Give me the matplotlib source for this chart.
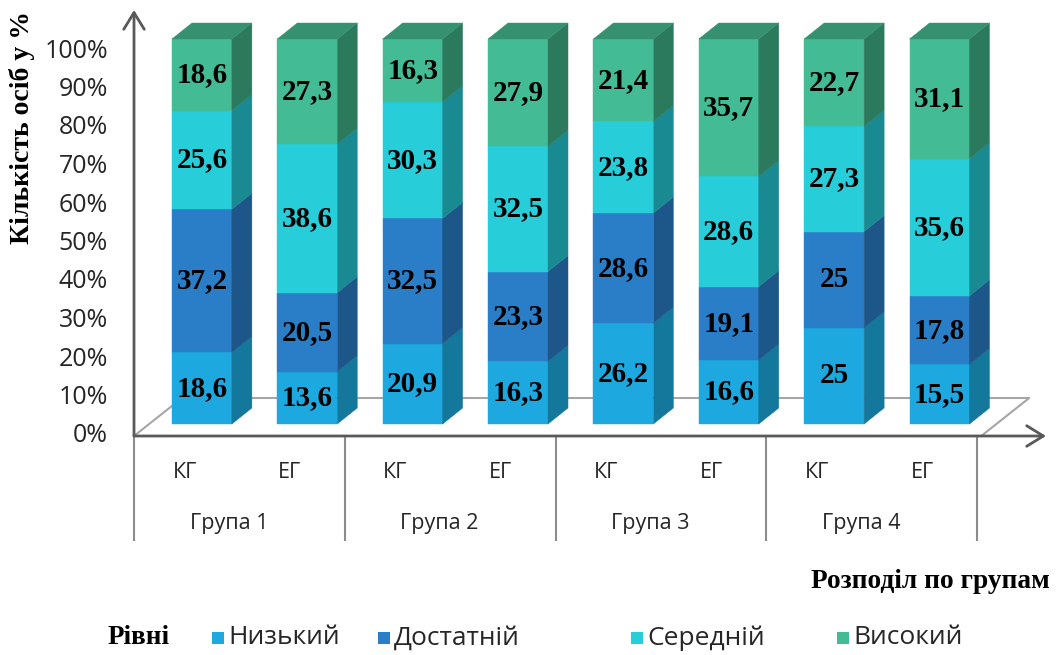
import matplotlib
matplotlib.use("Agg")
import matplotlib.pyplot as plt
from matplotlib.patches import Polygon, Rectangle

# ---------------- data ----------------
groups = ["Група 1", "Група 2", "Група 3", "Група 4"]
subcats = ["КГ", "ЕГ"]
levels = ["Низький", "Достатній", "Середній", "Високий"]
nyzkyi = [18.6, 13.6, 20.9, 16.3, 26.2, 16.6, 25, 15.5]
dostatnii = [37.2, 20.5, 32.5, 23.3, 28.6, 19.1, 25, 17.8]
serednii = [25.6, 38.6, 30.3, 32.5, 23.8, 28.6, 27.3, 35.6]
vysokyi = [18.6, 27.3, 16.3, 27.9, 21.4, 35.7, 22.7, 31.1]
series = [nyzkyi, dostatnii, serednii, vysokyi]
yticks = [0, 10, 20, 30, 40, 50, 60, 70, 80, 90, 100]

front_colors = ["#1DA8E0", "#2A7EC7", "#27CDD9", "#43BC95"]
side_colors = ["#14779C", "#1D5688", "#1A8A92", "#2C7A5D"]
top_color = "#35916F"

# ---------------- layout ----------------
W, H = 1059, 655
fig = plt.figure(figsize=(W / 100, H / 100), dpi=100)
X0, X1 = 134, 977
Y0, Y100 = 436, 51
ax = fig.add_axes([X0 / W, 1 - Y0 / H, (X1 - X0) / W, (Y0 - Y100) / H])
ncat = len(nyzkyi)
ax.set_xlim(0, ncat)
ax.set_ylim(0, 100)
ax.axis("off")

PXX = (X1 - X0) / ncat       # px per category
PXY = (Y0 - Y100) / 100.0    # px per percent


def d(dx_px, dy_px):
    """pixel offset -> data offset (dy_px positive = up)"""
    return dx_px / PXX, dy_px / PXY


FX, FY = d(48, 38)      # full floor depth
F1X, F1Y = d(15.2, 12)  # depth of bar front face
SX, SY = d(20, 16)      # bar depth
BW = 60 / PXX           # bar width

axis_col = "#595959"
floor_col = "#A6A6A6"

# floor
xr_floor = ncat + 0.04
ax.plot([0, FX, xr_floor + FX, xr_floor], [0, FY, FY, 0], color=floor_col,
        lw=1.5, clip_on=False, zorder=1)

# bars
serif = "Liberation Serif"
for i in range(ncat):
    xl = i + 0.5 - BW / 2 + F1X
    xr = xl + BW
    cum = 0.0
    for k, s in enumerate(series):
        v = s[i]
        y0 = F1Y + cum
        y1 = F1Y + cum + v
        ax.add_patch(Rectangle((xl, y0), BW, v, facecolor=front_colors[k],
                               edgecolor=front_colors[k], lw=0.3, clip_on=False, zorder=3))
        ax.add_patch(Polygon([(xr, y0), (xr + SX, y0 + SY), (xr + SX, y1 + SY), (xr, y1)],
                             closed=True, facecolor=side_colors[k], edgecolor=side_colors[k],
                             lw=0.3, clip_on=False, zorder=3))
        label = f"{v:g}".replace(".", ",")
        ax.text(xl + BW / 2, (y0 + y1) / 2, label, ha="center", va="center",
                fontsize=21, fontweight="bold", family=serif, color="black", zorder=5)
        cum += v
    ytop = F1Y + cum
    ax.add_patch(Polygon([(xl, ytop), (xr, ytop), (xr + SX, ytop + SY), (xl + SX, ytop + SY)],
                         closed=True, facecolor=top_color, edgecolor=top_color, lw=0.3,
                         clip_on=False, zorder=3))

# axes arrows
arrow = dict(arrowstyle="->,head_length=0.6,head_width=0.37", lw=2, color=axis_col,
             mutation_scale=20, shrinkA=0, shrinkB=0)
ax.annotate("", xy=((1046 - X0) / PXX, 0), xytext=(0, 0), arrowprops=arrow,
            annotation_clip=False, zorder=6)
ax.annotate("", xy=(0, (Y0 - 10) / PXY), xytext=(0, 0), arrowprops=arrow,
            annotation_clip=False, zorder=6)

# category table lines
ybot = -(540 - Y0) / PXY
for g in range(len(groups) + 1):
    ax.plot([2 * g, 2 * g], [0, ybot], color="#8C8C8C", lw=1.5, clip_on=False, zorder=1)

sans = ["Open Sans", "DejaVu Sans"]
# sub-category labels
for i in range(ncat):
    ax.text(i + 0.5 - 0.02, -(473 - Y0) / PXY, subcats[i % 2], ha="center", va="center",
            fontsize=15.5, family=sans, color="#262626")
for g, name in enumerate(groups):
    ax.text(2 * g + 1 - 0.1, -(523 - Y0) / PXY, name, ha="center", va="center",
            fontsize=15.5, family=sans, color="#262626")

# y tick labels
for t in yticks:
    ax.text(-(134 - 108) / PXX, t, f"{t}%", ha="right", va="center",
            fontsize=18, family=sans, color="#262626")

# axis titles
fig.text(22 / W, 1 - 128 / H, "Кількість осіб у %", rotation=90, ha="center", va="center",
         fontsize=20, fontweight="bold", family=serif, color="black")
fig.text(1050 / W, 1 - 582 / H, "Розподіл по групам", ha="right", va="center",
         fontsize=19.7, fontweight="bold", family=serif, color="black")

# legend
fig.text(108 / W, 1 - 638 / H, "Рівні", ha="left", va="center",
         fontsize=19.5, fontweight="bold", family=serif, color="black")
sq_x = [212, 378, 631, 837]
for k, name in enumerate(levels):
    fig.patches.append(Rectangle((sq_x[k] / W, 1 - 644 / H), 12 / W, 12 / H,
                                 transform=fig.transFigure, facecolor=front_colors[k],
                                 edgecolor="none"))
    fig.text((sq_x[k] + 16) / W, 1 - 638 / H, name, ha="left", va="center",
             fontsize=19, family=sans, color="#262626")

fig.savefig("out.png", dpi=100)
